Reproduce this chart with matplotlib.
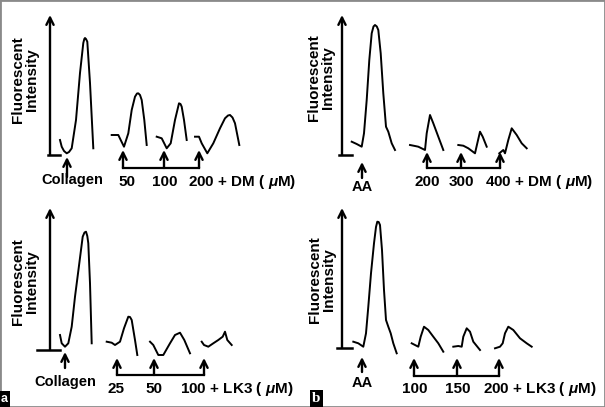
import matplotlib.pyplot as plt
from matplotlib.patches import Rectangle

plt.rcParams['font.family'] = ['Liberation Sans', 'DejaVu Sans']
plt.rcParams['font.weight'] = 'bold'
plt.rcParams['mathtext.fontset'] = 'custom'
plt.rcParams['mathtext.it'] = 'Liberation Sans:italic'
plt.rcParams['mathtext.rm'] = 'Liberation Sans:bold'

# traces: (time, intensity) in arbitrary units
tl_traces = [
    ([10, 11.7, 14, 16.7, 19, 21.7, 26, 30, 33.3, 34.3, 35, 36, 37.3, 40, 41.7, 43.3],
     [15, 8.3, 4, 1.7, 3, 6.7, 35, 82, 112, 116, 117, 116, 113.3, 72, 38.3, 6.7]),
    ([61.7, 68.3, 70.7, 74, 78.3, 81.7, 85, 87, 88.3, 90, 91.7, 94.3, 96.7],
     [20, 20, 15, 8.3, 21.7, 45, 58.3, 61.5, 61.7, 60, 55, 35, 10]),
    ([106.7, 111.7, 116.7, 120.7, 125, 129, 130.5, 131.7, 134, 136.7],
     [18.3, 16.7, 6.7, 11.7, 35, 51.7, 51, 48.3, 35, 15]),
    ([145, 149, 151.7, 157.3, 163.3, 170, 175, 178, 180, 182.5, 185, 189.3],
     [18.3, 18.3, 11.7, 1.7, 11.7, 26.7, 36.7, 39.5, 40, 37.5, 31.7, 10]),
]
tr_traces = [
    ([9.7, 14.7, 19.7, 22, 24.7, 27.3, 29.7, 31.5, 33, 34.8, 36.3, 38.7, 41.3, 44, 46.3, 49.7, 53],
     [13.3, 11, 8.3, 21.7, 55, 95, 121.7, 128.5, 130, 128.5, 125, 101.7, 61.7, 28.3, 23.3, 11.7, 5]),
    ([68, 73, 76.3, 83, 84.7, 88, 91.3, 96.3, 101.3],
     [10, 9, 8.3, 5, 21.7, 40, 31.7, 18.3, 5]),
    ([116.3, 121.3, 126.3, 133, 135.3, 138, 140.7, 144.7],
     [10, 9.3, 6.7, 1.7, 11.7, 23.3, 18.3, 8.3]),
    ([157.3, 161.3, 163, 166.3, 169.7, 174.7, 179.7, 184.7],
     [1.7, 5, 1.7, 15, 26.7, 20, 11.7, 6.7]),
]
bl_traces = [
    ([10, 11.7, 15, 18.3, 21.7, 25, 29.3, 32.7, 34.5, 36, 37.3, 38.3, 40, 41.7],
     [15, 6.7, 3.3, 6.7, 23.3, 53.3, 86.7, 113.3, 117.5, 118.3, 114, 106.7, 66.7, 6.7]),
    ([56.7, 61.7, 65, 70, 74, 78.3, 80, 81.7, 85, 87.3],
     [8.3, 7.3, 5, 8.3, 21.7, 33.3, 33, 30, 10, -5]),
    ([100, 103.3, 108.3, 113.3, 120, 125, 130, 134.3, 140],
     [8.3, 5, -5, -5, 6.7, 15, 17.3, 10, -3.3]),
    ([151.7, 154, 158.3, 163.3, 168.3, 172.7, 175, 177.3, 181.7],
     [8.3, 5, 3.3, 6.7, 10, 13.3, 18.3, 10, 5]),
]
br_traces = [
    ([11.3, 16.3, 21.3, 24, 26.3, 29, 32, 34, 35.3, 36.7, 38, 40, 42, 44, 46.3, 48.7, 51.3, 54.7],
     [6.3, 4.7, 1.3, 14.7, 41.3, 74.7, 104.7, 121, 126.3, 126, 123, 98, 58, 28, 21.3, 14.7, 4.7, -5.3]),
    ([69.7, 73, 76.3, 78.7, 82, 86.3, 91.3, 96.3, 101.3],
     [4.7, 3, 1.3, 11.3, 21.3, 18, 11.3, 4.7, -3.7]),
    ([111.3, 116.3, 119.7, 121.3, 124.7, 128, 131.3, 138],
     [1.3, 2, 1.3, 11.3, 19.7, 16.3, 6.3, -2]),
    ([153, 158, 160.7, 163, 166.3, 171.3, 178, 184.7, 189.7],
     [-0.3, 1.3, 4.7, 14.7, 21.3, 18, 9.7, 4.7, 1.3]),
]

agonists = ['Collagen', 'AA', 'Collagen', 'AA']
dose_labels = [['50', '100', '200 + DM ( $\\mu$M)'],
               ['200', '300', '400 + DM ( $\\mu$M)'],
               ['25', '50', '100 + LK3 ( $\\mu$M)'],
               ['100', '150', '200 + LK3 ( $\\mu$M)']]

# layout per panel (pixel origin of the y axis base, arrows etc.)
origins = [(50, 155), (342, 155), (50, 350), (342, 348)]
axis_top = [140, 140, 142, 140]
base_tick = [(-2, 10), (-3, 10), (-13, 10), (-5, 10)]
ylab_pos = [(-25, 75), (-21, 77), (-25, 68), (-20, 68)]
agon_arrow = [(17, -2, -22, 22, -25), (20, -7, -23, 20, -32),
              (15, -2, -18, 15, -32), (20, -9, -24, 20, -35)]
dose_x = [[73, 114, 149], [85, 119, 158], [67, 104, 154], [72, 115, 157]]
dose_tip = [5, 3, -8, -10]
bracket_y = [-13, -13, -25, -28]
dose_lab_x = [[77, 115, 138], [85, 119, 143], [66, 104, 130], [73, 116, 141]]
dose_lab_y = [-27, -27, -39, -41]

W, H = 605, 407
fig = plt.figure(figsize=(6.05, 4.07), dpi=100)
fig.add_artist(Rectangle((0, 0), 1, 1, transform=fig.transFigure,
                         fill=False, edgecolor='#8a8a8a', lw=2))

arrow_kw = dict(arrowstyle='->', color='k', lw=1.7, shrinkA=0, shrinkB=0,
                mutation_scale=13)

all_traces = [tl_traces, tr_traces, bl_traces, br_traces]
for p in range(4):
    x0, yb = origins[p]
    ax = fig.add_axes([(x0 - 50) / W, (H - (yb + 50)) / H, 310 / W, 200 / H])
    ax.set_xlim(-50, 260)
    ax.set_ylim(-50, 150)
    ax.axis('off')

    for t, inten in all_traces[p]:
        ax.plot(t, inten, color='k', lw=1.4, solid_joinstyle='round')

    # y axis with arrow
    ax.annotate('', xy=(0, axis_top[p]), xytext=(0, 0), arrowprops=arrow_kw)
    ax.plot(base_tick[p], [0, 0], color='k', lw=1.8)
    ax.text(ylab_pos[p][0], ylab_pos[p][1], 'Fluorescent\nIntensity',
            rotation=90, ha='center', va='center', fontsize=11,
            linespacing=1.05)

    # agonist arrow
    ax_x, tip, tail, lx, ly = agon_arrow[p]
    ax.annotate('', xy=(ax_x, tip), xytext=(ax_x, tail), arrowprops=arrow_kw)
    ax.text(lx, ly, agonists[p], ha='center', va='center', fontsize=10.5)

    # dose arrows and bracket
    for x in dose_x[p]:
        ax.annotate('', xy=(x, dose_tip[p]), xytext=(x, bracket_y[p]),
                    arrowprops=arrow_kw)
    ax.plot([dose_x[p][0], dose_x[p][-1]], [bracket_y[p]] * 2, color='k', lw=1.6)
    labs = dose_labels[p]
    for i, lab in enumerate(labs):
        ha = 'left' if i == len(labs) - 1 else 'center'
        ax.text(dose_lab_x[p][i], dose_lab_y[p], lab, ha=ha, va='center',
                fontsize=11)

# panel letters
fig.text(1 / W, 2 / H, 'a', color='white', fontsize=9, ha='left', va='bottom',
         bbox=dict(facecolor='black', edgecolor='none', pad=1.5))
fig.text(312 / W, 2 / H, 'b', color='white', fontsize=11, ha='left', va='bottom',
         family='Liberation Serif',
         bbox=dict(facecolor='black', edgecolor='none', pad=1.5))

fig.savefig('out.png', dpi=100)
